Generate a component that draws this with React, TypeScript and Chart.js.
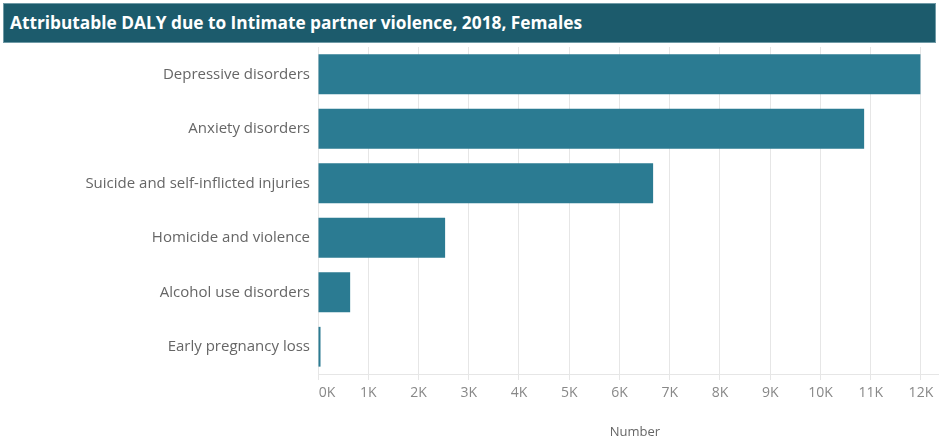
import React, { useEffect, useRef } from "react";
import { Chart, registerables } from "chart.js";

Chart.register(...registerables);

const titleText = "Attributable DALY due to Intimate partner violence, 2018, Females";
const categories = [
  "Depressive disorders",
  "Anxiety disorders",
  "Suicide and self-inflicted injuries",
  "Homicide and violence",
  "Alcohol use disorders",
  "Early pregnancy loss",
];
const values = [11990, 10870, 6670, 2530, 640, 50];
const xTickValues = [0, 1000, 2000, 3000, 4000, 5000, 6000, 7000, 8000, 9000, 10000, 11000, 12000];
const axisTitle = "Number";
const xMax = 12360;

const axisTitlePlugin = {
  id: "axisTitlePlugin",
  afterDraw(chart: any) {
    const ctx = chart.ctx;
    ctx.save();
    ctx.font = "13px 'Open Sans', sans-serif";
    ctx.fillStyle = "#666666";
    ctx.textAlign = "center";
    ctx.textBaseline = "middle";
    ctx.fillText(axisTitle, 635, 432);
    ctx.restore();
  },
};

export default function App() {
  const ref = useRef<HTMLCanvasElement | null>(null);
  useEffect(() => {
    document.body.style.margin = "0";
    const chart = new Chart(ref.current as HTMLCanvasElement, {
      type: "bar",
      data: {
        labels: categories,
        datasets: [
          {
            data: values,
            backgroundColor: "#2b7b92",
            borderWidth: 0,
            categoryPercentage: 1,
            barPercentage: 0.73,
          },
        ],
      },
      options: {
        indexAxis: "y",
        animation: false,
        responsive: false,
        maintainAspectRatio: false,
        layout: { padding: { top: 47, left: 0, right: 0, bottom: 0 } },
        plugins: {
          legend: { display: false },
          tooltip: { enabled: false },
        },
        scales: {
          x: {
            min: 0,
            max: xMax,
            afterBuildTicks(scale: any) {
              scale.ticks = xTickValues.map((v) => ({ value: v }));
            },
            afterFit(scale: any) {
              scale.height = 67;
            },
            ticks: {
              autoSkip: false,
              maxRotation: 0,
              padding: 5,
              color: "#888888",
              font: { family: "'Open Sans', sans-serif", size: 14 },
              callback: (v: any) => {
                const s = `${Math.round(Number(v) / 1000)}K`;
                return Number(v) === 0 ? "     " + s : s;
              },
            },
            grid: {
              color: "#e6e6e6",
              tickLength: 6,
              drawTicks: true,
            },
            border: { color: "#e6e6e6" },
          },
          y: {
            afterFit(scale: any) {
              scale.width = 318;
            },
            ticks: {
              padding: 8,
              color: "#666666",
              font: { family: "'Open Sans', sans-serif", size: 15 },
            },
            grid: { display: false, drawTicks: false },
            border: { display: false },
          },
        },
      },
      plugins: [axisTitlePlugin],
    });
    return () => chart.destroy();
  }, []);
  return (
    <div style={{ position: "relative", width: 939, height: 441, background: "#ffffff" }}>
      <canvas ref={ref} width={939} height={441} style={{ display: "block" }} />
      <div
        style={{
          position: "absolute",
          left: 3,
          top: 3,
          width: 933,
          height: 40,
          background: "#1c5b6c",
          boxSizing: "border-box",
          border: "1px solid #6f9aa6",
          color: "#ffffff",
          fontFamily: "'Open Sans', sans-serif",
          fontWeight: 700,
          fontSize: 17.3,
          lineHeight: "38px",
          paddingLeft: 6,
          whiteSpace: "nowrap",
        }}
      >
        {titleText}
      </div>
    </div>
  );
}
